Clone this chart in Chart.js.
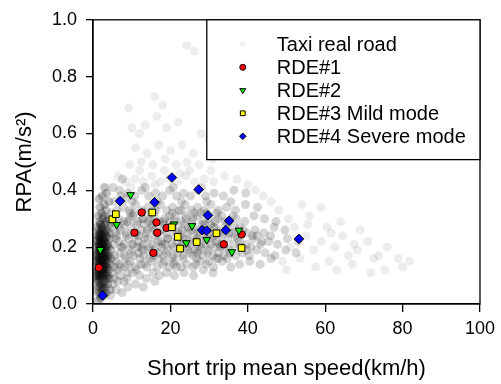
<!DOCTYPE html>
<html>
<head>
<meta charset="utf-8">
<script src="https://cdn.jsdelivr.net/npm/chart.js@4/dist/chart.umd.min.js"></script>
<style>
  body { margin: 0; background: #fff; }
  #wrap { width: 501px; height: 384px; }
</style>
</head>
<body>
<div id="wrap"><canvas id="scatter" width="501" height="384"></canvas></div>
<script>
const ctx = document.getElementById('scatter')

// x = short trip mean speed (km/h), y = RPA (m/s2)
const seriesNames = ['Taxi real road', 'RDE#1', 'RDE#2', 'RDE#3 Mild mode', 'RDE#4 Severe mode']
const xTicks = [0, 20, 40, 60, 80, 100]
const yTicks = [0.0, 0.2, 0.4, 0.6, 0.8, 1.0]

const rde1 = [[1.5, 0.128], [12.6, 0.322], [16.4, 0.287], [10.7, 0.251], [16.6, 0.251], [19.0, 0.268],
  [15.6, 0.180], [33.8, 0.210], [38.4, 0.245]]
const rde2 = [[1.9, 0.191], [9.7, 0.384], [6.1, 0.279], [20.9, 0.281], [25.6, 0.275], [24.1, 0.215],
  [29.4, 0.226], [37.7, 0.259], [35.9, 0.183]]
const rde3 = [[5.0, 0.298], [5.9, 0.316], [15.3, 0.322], [20.4, 0.270], [21.9, 0.236], [22.5, 0.195],
  [26.8, 0.218], [31.9, 0.249], [38.4, 0.197]]
const rde4 = [[2.5, 0.030], [7.0, 0.362], [15.9, 0.358], [20.4, 0.445], [27.3, 0.403], [29.7, 0.312],
  [28.2, 0.260], [29.4, 0.258], [34.3, 0.260], [35.2, 0.293], [53.2, 0.229]]

// taxi cloud, hand-read sample of the grey point cloud
const taxiStreak = [
  [1.2,0.01],[2.0,0.02],[2.8,0.03],[1.5,0.04],[3.4,0.04],[2.3,0.05],[1.0,0.05],
  [1.4,0.06],[2.6,0.06],[3.8,0.07],[1.9,0.07],[1.1,0.08],[3.1,0.08],[2.3,0.09],[4.2,0.09],[1.6,0.1],[2.9,0.1],[0.9,0.1],
  [1.3,0.11],[2.1,0.11],[3.5,0.11],[1.8,0.12],[2.7,0.12],[4.0,0.12],[1.1,0.13],[2.4,0.13],[3.2,0.13],[1.6,0.14],[2.9,0.14],[4.5,0.14],[2.0,0.15],[1.2,0.15],[3.7,0.15],
  [1.5,0.16],[2.5,0.16],[3.3,0.16],[1.0,0.17],[2.0,0.17],[2.9,0.17],[4.1,0.17],[1.4,0.18],[2.3,0.18],[3.6,0.18],[1.8,0.19],[2.7,0.19],[4.6,0.19],[1.1,0.2],[2.2,0.2],[3.1,0.2],
  [1.6,0.21],[2.6,0.21],[3.8,0.21],[1.2,0.22],[2.0,0.22],[3.0,0.22],[1.7,0.23],[2.5,0.23],[4.3,0.23],[1.3,0.24],[2.2,0.24],[3.4,0.24],[1.9,0.25],[2.8,0.25],
  [1.5,0.26],[2.4,0.26],[3.6,0.26],[1.1,0.27],[2.0,0.28],[3.0,0.28],[4.4,0.28],[1.7,0.29],[2.6,0.3],[3.9,0.3],
  [1.4,0.31],[2.2,0.32],[3.3,0.33],[1.8,0.34],[2.9,0.35],[4.1,0.36],[2.4,0.38],[3.5,0.39],[1.6,0.37],[3.0,0.41],
  [1.7,0.09],[2.5,0.1],[1.4,0.12],[3.0,0.12],[2.2,0.14],[1.8,0.15],[2.6,0.15],[1.3,0.16],[3.0,0.18],[2.1,0.19],[1.6,0.2],[2.4,0.21],[1.9,0.22],[2.8,0.23],[1.5,0.24],[2.3,0.27],
  [1.0,0.09],[1.3,0.1],[2.0,0.1],[2.7,0.11],[3.3,0.1],[1.5,0.11],[1.2,0.12],[2.3,0.12],[3.6,0.13],[1.9,0.13],[2.8,0.13],[1.4,0.14],[2.5,0.14],[3.3,0.14],[1.0,0.15],
  [2.3,0.155],[3.0,0.155],[1.7,0.165],[2.7,0.165],[3.8,0.165],[1.2,0.175],[2.2,0.175],[3.2,0.17],[1.6,0.185],[2.5,0.185],[3.3,0.19],[1.3,0.19],[2.0,0.195],[2.9,0.2],
  [1.8,0.205],[3.5,0.205],[1.4,0.21],[2.3,0.215],[3.1,0.215],[1.1,0.225],[2.7,0.225],[1.8,0.235],[3.6,0.235],[2.1,0.245],[1.5,0.25],[3.1,0.255],[2.4,0.265],[1.9,0.28],
  [3.3,0.29],[2.8,0.31],[2.0,0.06],[2.9,0.07],[1.5,0.08],[2.4,0.075],[3.6,0.09],[1.8,0.03],[2.6,0.04],[3.1,0.055],[4.0,0.2],[4.2,0.25],[4.7,0.16],[3.9,0.1],[4.4,0.05]
]
const taxiBlob = [
  [4.5,0.03],[6,0.05],[7.5,0.04],[9,0.06],[5.2,0.07],[11,0.07],[13,0.06],[8,0.08],[16,0.08],
  [5.5,0.09],[7,0.1],[8.8,0.09],[10.2,0.11],[12,0.1],[13.8,0.09],[15.5,0.11],[17.2,0.1],[19,0.11],[21,0.1],[23.5,0.11],[26,0.1],[28.5,0.12],[31,0.11],[6.3,0.12],[11.2,0.12],
  [5.3,0.13],[6.8,0.14],[8.2,0.13],[9.6,0.15],[10.9,0.13],[12.4,0.14],[13.9,0.13],[15.1,0.15],[16.6,0.13],[18.1,0.14],[19.7,0.13],[21.2,0.15],[22.8,0.13],[24.3,0.14],
  [25.9,0.13],[27.6,0.15],[29.3,0.14],[31.2,0.13],[33.4,0.15],[35.6,0.13],[37.9,0.14],[40.5,0.15],[43.2,0.14],[46,0.16],[14.6,0.16],[20.4,0.16],[26.8,0.16],[32.4,0.16],
  [5.6,0.17],[6.9,0.18],[8.1,0.17],[9.3,0.19],[10.5,0.17],[11.8,0.18],[13.1,0.17],[14.3,0.19],[15.6,0.17],[16.9,0.18],[18.2,0.17],[19.4,0.19],[20.7,0.17],[21.9,0.18],
  [23.2,0.17],[24.5,0.19],[25.8,0.17],[27.1,0.18],[28.4,0.17],[29.7,0.19],[31,0.17],[32.4,0.18],[33.8,0.17],[35.3,0.19],[36.9,0.17],[38.6,0.18],[40.4,0.17],[42.3,0.19],
  [44.5,0.18],[47,0.17],[49.8,0.19],[52.5,0.18],[7.6,0.2],[12.5,0.2],[17.6,0.2],[22.6,0.2],[27.8,0.2],[33,0.2],[38,0.2],
  [5.4,0.21],[6.7,0.22],[8,0.21],[9.2,0.23],[10.4,0.21],[11.7,0.22],[12.9,0.21],[14.2,0.23],[15.4,0.21],[16.7,0.22],[17.9,0.21],[19.2,0.23],[20.4,0.21],[21.7,0.22],
  [22.9,0.21],[24.2,0.23],[25.4,0.21],[26.7,0.22],[27.9,0.21],[29.2,0.23],[30.5,0.21],[31.9,0.22],[33.3,0.21],[34.8,0.23],[36.3,0.21],[37.9,0.22],[39.6,0.21],[41.4,0.23],
  [43.3,0.21],[45.4,0.22],[47.7,0.21],[50.2,0.23],[53,0.22],[6.1,0.24],[10.9,0.24],[16.1,0.24],[21.1,0.24],[26.2,0.24],[31.2,0.24],[36.8,0.24],[42.4,0.24],
  [5.8,0.25],[7.1,0.26],[8.5,0.25],[9.8,0.27],[11.2,0.25],[12.5,0.26],[13.8,0.25],[15.2,0.27],[16.5,0.25],[17.8,0.26],[19.1,0.25],[20.5,0.27],[21.8,0.25],[23.1,0.26],
  [24.4,0.25],[25.8,0.27],[27.1,0.25],[28.4,0.26],[29.8,0.25],[31.3,0.27],[32.8,0.25],[34.4,0.26],[36.1,0.25],[37.9,0.27],[39.8,0.25],[41.9,0.26],[44.2,0.25],[46.8,0.27],
  [49.6,0.26],[8,0.28],[13.2,0.28],[18.4,0.28],[23.6,0.28],[28.9,0.28],[34.6,0.28],
  [5.3,0.29],[6.6,0.3],[8.9,0.29],[10.3,0.31],[11.6,0.29],[13,0.3],[14.4,0.29],[15.8,0.31],[17.1,0.29],[18.5,0.3],[19.9,0.29],[21.3,0.31],[22.7,0.29],[24.1,0.3],
  [25.5,0.29],[27,0.31],[28.5,0.29],[30,0.3],[31.6,0.29],[33.3,0.31],[35.1,0.29],[37,0.3],[39.2,0.29],[41.6,0.31],[44.3,0.3],[47.3,0.29],[9.6,0.32],[14.9,0.32],
  [20.5,0.32],[26.1,0.32],[31.9,0.32],
  [6.2,0.33],[7.8,0.34],[9.4,0.33],[11,0.35],[12.6,0.33],[14.2,0.34],[15.8,0.33],[17.4,0.35],[19,0.33],[20.6,0.34],[22.2,0.33],[23.8,0.35],[25.4,0.33],[27,0.34],
  [28.7,0.33],[30.5,0.35],[32.4,0.33],[34.5,0.34],[36.8,0.33],[39.4,0.35],[42.5,0.34],[10.2,0.36],[16.6,0.36],[22.9,0.36],[29.4,0.36],[35.6,0.36],
  [7.2,0.38],[9,0.39],[10.8,0.38],[12.6,0.4],[14.4,0.38],[16.2,0.39],[18,0.38],[19.8,0.4],[21.6,0.38],[23.4,0.39],[25.2,0.38],[27.1,0.4],[29.1,0.38],[31.3,0.39],
  [33.7,0.38],[36.4,0.4],[39.5,0.39],[13.5,0.41],[20.7,0.41],[28,0.41]
]
const taxiCore = [
  [6,0.15],[7.3,0.2],[8.6,0.24],[9.9,0.18],[11.3,0.28],[12.1,0.16],[13.4,0.23],[14.8,0.3],[15.9,0.19],[17.1,0.25],[18.4,0.15],[19.8,0.31],[20.9,0.2],[22.1,0.26],
  [23.4,0.16],[24.8,0.22],[25.9,0.3],[27.3,0.19],[28.6,0.24],[29.9,0.15],[31.1,0.27],[32.6,0.21],[34.1,0.29],[35.4,0.18],[7.9,0.29],[9.1,0.14],[10.6,0.32],[12.8,0.19],
  [14.1,0.26],[16.3,0.33],[17.6,0.22],[18.9,0.18],[20.3,0.27],[21.6,0.13],[22.8,0.33],[24.1,0.2],[25.3,0.26],[26.6,0.14],[27.9,0.32],[29.1,0.21],[30.4,0.28],[31.8,0.16],
  [33.2,0.24],[36.6,0.27],[38.3,0.2],[6.7,0.27],[8.4,0.16],[10.1,0.21],[11.9,0.24],[13.2,0.14],[14.6,0.2],[15.3,0.28],[16.8,0.16],[18.1,0.29],[19.3,0.23],[20.8,0.14],
  [22.4,0.24],[23.9,0.31],[25.1,0.18],[26.9,0.23],[28.1,0.28],[29.6,0.18],[30.9,0.23],[32.3,0.3],[33.9,0.2],[35.1,0.25],[37.4,0.23],[39.7,0.19],[41.2,0.24],[5.9,0.23],
  [7.1,0.13],[9.5,0.3],[11.5,0.2],[12.7,0.3],[16,0.26],[18.7,0.21],[21.3,0.29],[23.1,0.23],[24.6,0.27],[26.3,0.19],[27.5,0.26],[29.4,0.32],[31.4,0.2],[32.9,0.26],
  [34.7,0.16],[36.2,0.31],[38.8,0.26],[40.8,0.2],[43.6,0.22],[45.9,0.24],
  [4.8,0.32],[5.6,0.36],[6.9,0.4],[8.3,0.37],[5.2,0.41],[7.6,0.44],[4.6,0.27],[5.1,0.11],[6.4,0.08],[8.9,0.11]
]
// sparse fringe: top of the cloud, far outliers and the long tail to the right
const taxiFringe = [
  [8.5,0.43],[10.8,0.44],[13,0.43],[15.2,0.45],[17.4,0.43],[19.6,0.44],[21.8,0.43],[24,0.45],[26.3,0.43],[28.7,0.44],[31.2,0.43],[34,0.45],[37.2,0.44],
  [12,0.47],[18.5,0.47],[25,0.47],[30.5,0.47],[6.5,0.45],[9.8,0.41],[22.5,0.46],[16,0.42],
  [9.5,0.49],[12.5,0.5],[15.5,0.49],[18.6,0.51],[21.5,0.49],[24.3,0.5],[27.4,0.49],[31,0.51],[14,0.53],[20,0.54],[26,0.53],[11,0.55],[17,0.56],[23,0.56],
  [9.2,0.69],[15.9,0.73],[16.5,0.66],[12,0.6],[19,0.62],[22,0.64],[28,0.6],[13.5,0.63],[24.3,0.91],[26.2,0.89],[18,0.7],[10,0.62],[30,0.58],
  [49,0.15],[51,0.2],[52,0.27],[53.5,0.16],[55,0.24],[56,0.31],[57,0.19],[58.9,0.34],[59,0.22],[60.5,0.27],[61,0.15],[62.5,0.2],[64,0.29],[64.5,0.24],
  [66,0.17],[67.5,0.21],[68.3,0.19],[69,0.26],[71,0.22],[71.8,0.11],[72.5,0.16],[73.8,0.17],[75.4,0.12],[76,0.2],[78.9,0.16],[80,0.13],[81.8,0.15],
  [54,0.35],[50.5,0.3],[57.5,0.13],[63,0.12],[48,0.33],[46,0.36],[44,0.38],[50,0.12],[55.5,0.28],[61.5,0.25],[67,0.14],[42,0.4],[40,0.42]
]
const taxi = [...taxiStreak, ...taxiBlob, ...taxiCore, ...taxiFringe]
const streakEnd = taxiStreak.length
const fringeStart = taxi.length - taxiFringe.length

const toXY = arr => arr.map(p => ({ x: p[0], y: p[1] }))

const markerStyles = [
  { style: 'circle', color: 'rgba(0,0,0,0.16)', radius: 4.5, rotation: 0, border: 0 },
  { style: 'circle', color: '#ff0000', radius: 3.7, rotation: 0, border: 1 },
  { style: 'triangle', color: '#00ee00', radius: 4.4, rotation: 180, border: 1 },
  { style: 'rect', color: '#ffff00', radius: 4.7, rotation: 0, border: 1 },
  { style: 'rectRot', color: '#0000ff', radius: 4.8, rotation: 0, border: 1 },
]

const taxiColor = c => {
  if (c.dataIndex < streakEnd) return 'rgba(0,0,0,0.24)'
  if (c.dataIndex >= fringeStart) return 'rgba(0,0,0,0.07)'
  return markerStyles[0].color
}

Chart.defaults.font.family = '"Liberation Sans", Arial, sans-serif'
Chart.defaults.color = '#000'

const drawMarker = (c, m, x, y, r) => {
  c.beginPath()
  if (m.style === 'circle') {
    c.arc(x, y, r, 0, Math.PI * 2)
  } else if (m.style === 'triangle') {
    c.moveTo(x - r, y - r * 0.55)
    c.lineTo(x + r, y - r * 0.55)
    c.lineTo(x, y + r * 1.1)
    c.closePath()
  } else if (m.style === 'rect') {
    c.rect(x - r * 0.8, y - r * 0.8, r * 1.6, r * 1.6)
  } else {
    c.moveTo(x, y - r * 1.1)
    c.lineTo(x + r * 1.1, y)
    c.lineTo(x, y + r * 1.1)
    c.lineTo(x - r * 1.1, y)
    c.closePath()
  }
  c.fillStyle = m.color
  c.fill()
  if (m.border) {
    c.lineWidth = 1
    c.strokeStyle = '#000'
    c.stroke()
  }
}

// frame around plot + boxed legend in upper right
const frameAndLegend = {
  id: 'frameAndLegend',
  afterDatasetsDraw(chart) {
    const c = chart.ctx
    const a = chart.chartArea
    const w = a.right - a.left
    const h = a.bottom - a.top
    c.save()
    c.lineWidth = 1.3
    c.strokeStyle = '#000'
    c.strokeRect(a.left, a.top, w, h)

    const bx = a.left + w * 0.294
    const bh = h * 0.492
    c.fillStyle = '#fff'
    c.fillRect(bx, a.top, a.right - bx, bh)
    c.strokeRect(bx, a.top, a.right - bx, bh)

    c.font = '20px "Liberation Sans", Arial, sans-serif'
    c.textBaseline = 'middle'
    c.textAlign = 'left'
    seriesNames.forEach((name, i) => {
      const ry = a.top + 24.5 + i * 23
      const m = i === 0 ? { ...markerStyles[0], color: 'rgba(0,0,0,0.05)' } : markerStyles[i]
      drawMarker(c, m, bx + 36, ry, 3)
      c.fillStyle = '#000'
      c.fillText(name, bx + 70, ry + 1)
    })
    c.restore()
  }
}

const datasets = [taxi, rde1, rde2, rde3, rde4].map((d, i) => ({
  label: seriesNames[i],
  data: toXY(d),
  pointStyle: markerStyles[i].style,
  pointRadius: markerStyles[i].radius,
  pointRotation: markerStyles[i].rotation,
  backgroundColor: i === 0 ? taxiColor : markerStyles[i].color,
  borderColor: '#000',
  borderWidth: markerStyles[i].border,
  order: i === 0 ? 10 : 5 - i,
}))

const chart = new Chart(ctx, {
  type: 'scatter',
  data: { datasets },
  plugins: [frameAndLegend],
  options: {
    responsive: false,
    animation: false,
    layout: { padding: { top: 18, right: 17, left: 0, bottom: 0 } },
    plugins: {
      legend: { display: false },
      tooltip: { enabled: false },
    },
    scales: {
      x: {
        min: 0,
        max: 100,
        afterBuildTicks: s => { s.ticks = xTicks.map(v => ({ value: v })) },
        afterFit: s => { s.height = 80 },
        grid: { drawOnChartArea: false, drawTicks: true, tickLength: 8, color: '#000', lineWidth: 1.3 },
        border: { display: true, color: '#000', width: 1.3 },
        ticks: { font: { size: 18 }, padding: 6, color: '#000', maxRotation: 0 },
        title: { display: true, text: 'Short trip mean speed(km/h)', font: { size: 22 }, padding: { top: 0, bottom: 2 }, color: '#000' },
      },
      y: {
        min: 0,
        max: 1,
        afterBuildTicks: s => { s.ticks = yTicks.map(v => ({ value: v })) },
        afterFit: s => { s.width = 93 },
        grid: { drawOnChartArea: false, drawTicks: true, tickLength: 7, color: '#000', lineWidth: 1.3 },
        border: { display: true, color: '#000', width: 1.3 },
        ticks: { font: { size: 18 }, padding: 9, color: '#000', callback: v => v.toFixed(1) },
        title: { display: true, text: 'RPA(m/s²)', font: { size: 22 }, padding: { top: 12, bottom: 0 }, color: '#000' },
      },
    },
  },
})
</script>
</body>
</html>
